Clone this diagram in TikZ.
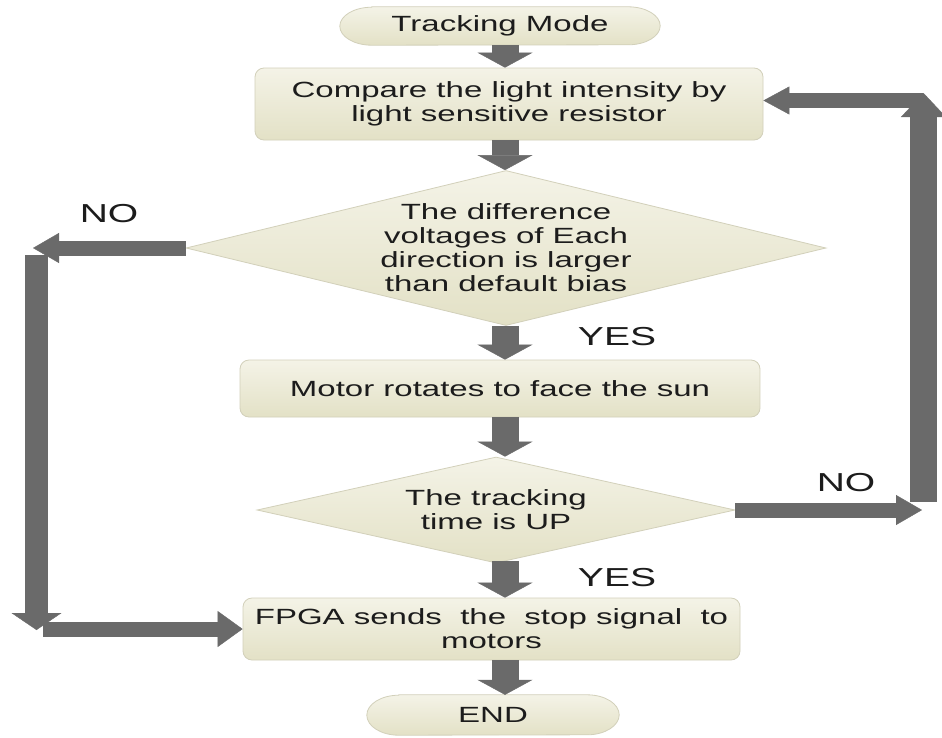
\documentclass[tikz,border=0pt]{standalone}
\usepackage{fontspec}
\setmainfont{Liberation Sans}[FakeStretch=1.5]
\usetikzlibrary{arrows.meta,shapes.geometric,backgrounds}
\definecolor{boxtop}{HTML}{F4F3E7}
\definecolor{boxbot}{HTML}{E3E1C6}
\definecolor{boxline}{HTML}{D2D0BA}
\definecolor{arrowgray}{HTML}{6A6A6A}
\definecolor{ink}{HTML}{1C1C1C}
\begin{document}
\begin{tikzpicture}[x=1pt,y=-1pt,
  txt/.style={font=\fontsize{22}{24}\selectfont, text=ink, align=center, inner sep=0pt},
  lbl/.style={font=\fontsize{26}{30}\selectfont, text=ink, inner sep=0pt},
  shade/.style={draw=boxline, line width=0.8pt, top color=boxtop, bottom color=boxbot},
  procbox/.style={txt, shade, rounded corners=9pt},
  termbox/.style={txt, minimum height=38pt},
  decbox/.style={shape=diamond, shade, inner sep=0pt},
  vblk/.style={arrowgray, line width=27pt, -{Triangle[width=55pt,length=15pt,line width=0.4pt]}},
  hblk/.style={arrowgray, line width=15pt, -{Triangle[width=30pt,length=26pt,line width=0.4pt]}},
  lvblk/.style={arrowgray, line width=23pt, -{Triangle[width=50pt,length=17pt,line width=0.4pt]}},
  rvblk/.style={arrowgray, line width=27pt, -{Triangle[width=45pt,length=24pt,line width=0.4pt]}}
]
\useasboundingbox (0,0) rectangle (942,737);

% spine for vertical arrows
\coordinate (spine) at (505,0);

% nodes
\node[termbox, minimum width=320pt] (start) at (500,26) {Tracking Mode};
\node[procbox, minimum width=508pt, minimum height=72pt] (compare) at (509,104)
  {Compare the light intensity by\\light sensitive resistor};
\node[decbox, minimum width=640pt, minimum height=155pt] (dec1) at (506,248) {};
\node[txt] (dec1t) at (dec1.center)
  {The difference\\voltages of Each\\direction is larger\\than default bias};
\node[procbox, minimum width=520pt, minimum height=57pt] (motor) at (500,388.5)
  {Motor rotates to face the sun};
\node[decbox, minimum width=478pt, minimum height=106pt] (dec2) at (496,510) {};
\node[txt] (dec2t) at (dec2.center) {The tracking\\time is UP};
\node[procbox, minimum width=497pt, minimum height=62pt] (fpga) at (491.5,629)
  {FPGA sends~ the~ stop signal~ to\\motors};
\node[termbox, minimum width=252pt, minimum height=40pt] (endn) at (493,715) {END};

% background and terminal shapes
\begin{scope}[on background layer]
  \fill[white] (0,0) rectangle (942,737);
  \path[shade] ([xshift=32pt]start.north west) -- ([xshift=-32pt]start.north east)
    arc[start angle=90, end angle=-90, x radius=32pt, y radius=19pt]
    -- ([xshift=32pt]start.south west)
    arc[start angle=270, end angle=90, x radius=32pt, y radius=19pt] -- cycle;
  \path[shade] ([xshift=32pt]endn.north west) -- ([xshift=-32pt]endn.north east)
    arc[start angle=90, end angle=-90, x radius=32pt, y radius=20pt]
    -- ([xshift=32pt]endn.south west)
    arc[start angle=270, end angle=90, x radius=32pt, y radius=20pt] -- cycle;
\end{scope}

% labels
\node[lbl] (no1) at (109,214) {NO};
\node[lbl] (yes1) at (617,337) {YES};
\node[lbl] (no2) at (846,483) {NO};
\node[lbl] (yes2) at (617,578) {YES};

% vertical main arrows
\draw[vblk] (start.south -| spine) -- (compare.north -| spine);
\draw[vblk] (compare.south -| spine) -- (dec1.north -| spine);
\draw[vblk] (dec1.south -| spine) -- (motor.north -| spine);
\draw[vblk] (motor.south -| spine) -- (dec2.north -| spine);
\draw[vblk] ([yshift=2pt]dec2.south -| spine) -- (fpga.north -| spine);
\draw[vblk] (fpga.south -| spine) -- (endn.north -| spine);

% left NO path
\coordinate (ltip) at (33,248);
\coordinate (ltop) at (36.5,255);
\coordinate (lbot) at (36.5,630);
\coordinate (lstart) at (43,629);
\draw[hblk] (dec1.west) -- (ltip);
\draw[lvblk] (ltop) -- (lbot);
\draw[hblk, -{Triangle[width=36pt,length=25pt,line width=0.4pt]}] (lstart) -- (fpga.west);

% right NO path
\coordinate (rtip) at (922,510);
\coordinate (rbot) at (923.5,502);
\coordinate (rtop) at (923.5,93);
\coordinate (rstart) at (923,100.5);
\draw[hblk] (dec2.east) -- (rtip);
\draw[rvblk] (rbot) -- (rtop);
\draw[hblk, -{Triangle[width=28pt,length=26pt,line width=0.4pt]}] (rstart) -- (compare.east |- rstart);
\end{tikzpicture}
\end{document}
